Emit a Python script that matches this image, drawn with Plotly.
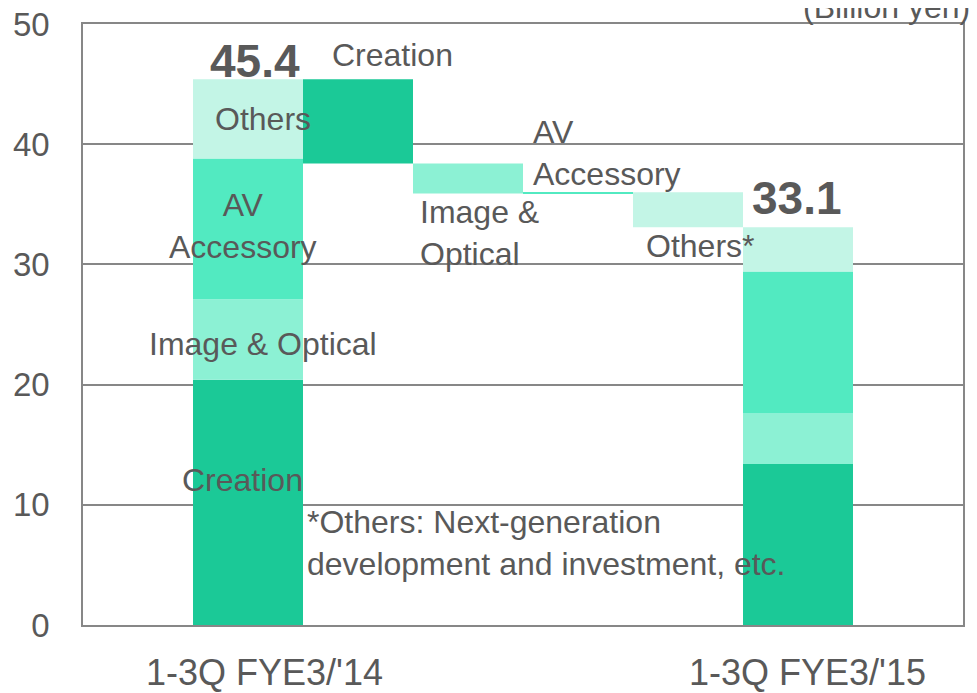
import plotly.graph_objects as go

# Sales breakdown (Billion yen)
periods = ["1-3Q FYE3/'14", "1-3Q FYE3/'15"]
segments = ["Creation", "Image & Optical", "AV Accessory", "Others"]
fy14 = [20.4, 6.7, 11.7, 6.6]
fy15 = [13.4, 4.2, 11.8, 3.7]
step_names = ["Creation", "Image & Optical", "AV Accessory", "Others*"]
changes = [-7.0, -2.5, 0.1, -2.9]

colors = ["#1BC997", "#8CF1D4", "#52EAC1", "#C3F5E6"]
txt = "#595959"
font = "Liberation Sans, Arial, sans-serif"

categories = [periods[0]] + step_names + [periods[1]]

fig = go.Figure()

# running total for the waterfall steps
running = sum(fy14)
step_base, step_height = [], []
for c in changes:
    new = running + c
    step_base.append(min(running, new))
    step_height.append(abs(c))
    running = new

for i, seg in enumerate(segments):
    base14 = sum(fy14[:i])
    base15 = sum(fy15[:i])
    fig.add_trace(go.Bar(
        x=[periods[0], step_names[i], periods[1]],
        y=[fy14[i], step_height[i], fy15[i]],
        base=[base14, step_base[i], base15],
        width=1,
        marker=dict(color=colors[i], line=dict(width=0)),
        name=seg,
        showlegend=False,
        hoverinfo="skip",
    ))

# page body adds a small offset, margins compensate for it
fig.update_layout(
    width=977, height=693,
    margin=dict(l=75, r=22, t=16, b=76),
    barmode="overlay",
    plot_bgcolor="white",
    paper_bgcolor="white",
    font=dict(family=font, color=txt, size=32),
)
fig.update_xaxes(
    type="category", categoryorder="array", categoryarray=categories,
    range=[-1.5, 6.5], showticklabels=False, showgrid=False,
    showline=True, linecolor="#878787", linewidth=1.5, mirror=True,
    automargin=False,
)
fig.update_yaxes(
    range=[0, 50], dtick=10, tick0=0,
    showgrid=True, gridcolor="#878787", gridwidth=1.5,
    showline=True, linecolor="#878787", linewidth=1.5, mirror=True,
    zeroline=False, ticks="", ticklabelstandoff=25,
    ticklabeloverflow="allow",
    tickfont=dict(size=33, color=txt), automargin=False,
)

labels = [
    ("<b>45.4</b>", 0.062, 46.9, "center", 46),
    ("Creation", 1.316, 47.4, "center", 32),
    ("Others", 0.135, 42.1, "center", 32),
    ("AV<br>Accessory", -0.047, 33.2, "center", 32),
    ("Image & Optical", 0.14, 23.4, "center", 32),
    ("Creation", -0.047, 12.1, "center", 32),
    ("Image &<br>Optical", 1.543, 32.6, "left", 32),
    ("AV<br>Accessory", 2.569, 39.25, "left", 32),
    ("Others*", 4.113, 31.5, "center", 32),
    ("<b>33.1</b>", 4.994, 35.5, "center", 46),
    ("*Others: Next-generation<br>development and investment, etc.", 0.516, 6.8, "left", 32),
]
for text, x, y, anchor, size in labels:
    fig.add_annotation(
        x=x, y=y, xref="x", yref="y", text=text, showarrow=False,
        xanchor=anchor, yanchor="middle", align=anchor,
        font=dict(size=size, color=txt, family=font),
    )

# period labels under the bars
for p, shift in zip(periods, [16, 9]):
    fig.add_annotation(
        x=p, y=0, xref="x", yref="paper", text=p, showarrow=False,
        xanchor="center", yanchor="middle", yshift=-47, xshift=shift,
        font=dict(size=36, color=txt, family=font),
    )

fig.add_annotation(
    x=1.0102, y=1.0275, xref="paper", yref="paper", text="(Billion yen)",
    showarrow=False, xanchor="right", yanchor="middle",
    font=dict(size=32, color=txt, family=font),
)

fig.write_html("out.html")
